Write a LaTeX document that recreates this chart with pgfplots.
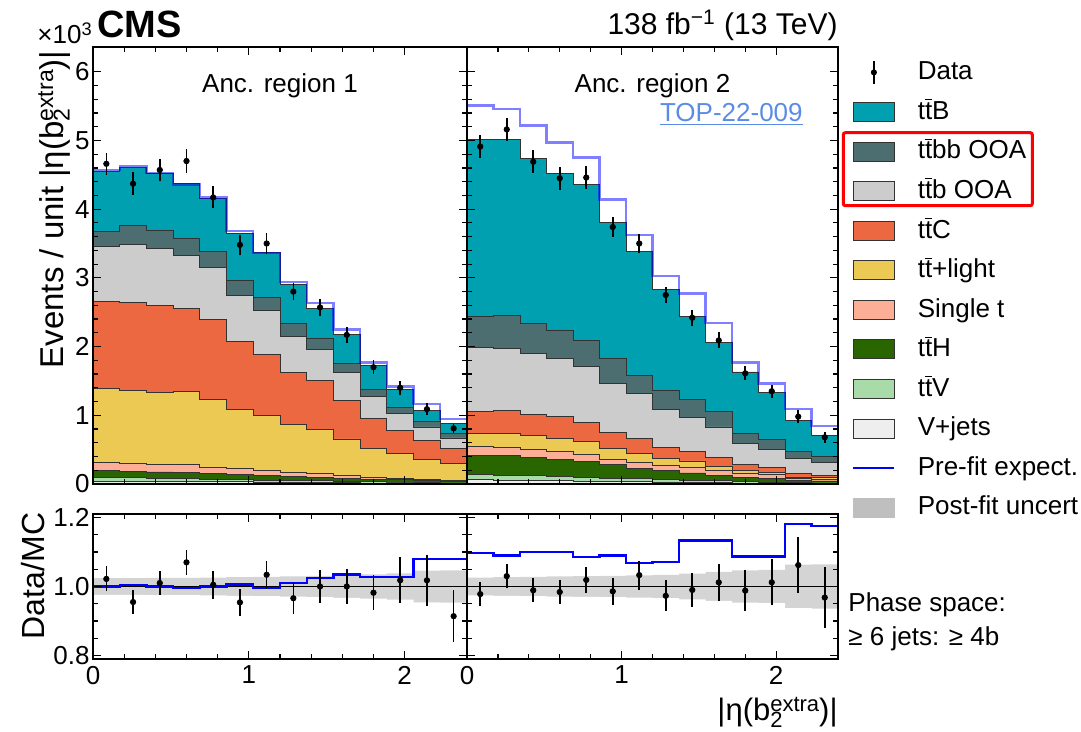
\documentclass[border=0pt]{standalone}
\usepackage{fontspec}
\setmainfont{Liberation Sans}
\usepackage{pgfplots}
\pgfplotsset{compat=1.18}
\usepackage{pgfplotstable}

\definecolor{cttB}{RGB}{0,160,176}
\definecolor{cbb}{RGB}{77,110,112}
\definecolor{cb}{RGB}{204,204,204}
\definecolor{cc}{RGB}{236,104,65}
\definecolor{cl}{RGB}{236,201,82}
\definecolor{cst}{RGB}{252,175,150}
\definecolor{ch}{RGB}{42,102,0}
\definecolor{cv}{RGB}{168,219,168}
\definecolor{cj}{RGB}{238,238,238}
\definecolor{cband}{RGB}{212,212,212}
\definecolor{clink}{RGB}{90,140,230}

\newcommand\tb{\ensuremath{\overline{\mbox{t}}}}
\newcommand\fs[1]{\fontsize{#1}{#1}\selectfont}
% b with stacked subscript 2 and superscript "extra"; #1 = script size
\newcommand\bxt[1]{b\rlap{\raisebox{-0.2em}{\fs{#1}2}}\raisebox{0.3em}{\fs{#1}extra}}

% region 1 histogram (bin lower edges; last row repeats last bin at x=2.4)
\pgfplotstableread{
x tot bb b c l st h v j pre rpre lo hi
0        4.55 3.68 3.45 2.65 1.39  0.316 0.19  0.097 0.04  4.57 1.000 0.976 1.024
0.171429 4.61 3.76 3.48 2.64 1.36  0.303 0.18  0.09  0.04  4.63 1.004 0.976 1.024
0.342857 4.52 3.69 3.43 2.60 1.33  0.29  0.175 0.085 0.035 4.53 1.000 0.975 1.025
0.514286 4.37 3.57 3.33 2.56 1.35  0.28  0.17  0.08  0.035 4.36 0.996 0.975 1.025
0.685714 4.16 3.38 3.15 2.39 1.23  0.24  0.155 0.07  0.03  4.17 1.000 0.974 1.026
0.857143 3.65 2.96 2.75 2.07 1.08  0.22  0.135 0.06  0.03  3.68 1.006 0.973 1.027
1.028571 3.37 2.72 2.52 1.89 0.995 0.20  0.125 0.055 0.025 3.36 0.996 0.972 1.028
1.2      2.91 2.33 2.14 1.62 0.87  0.175 0.115 0.05  0.025 2.94 1.009 0.971 1.029
1.371429 2.56 2.12 1.96 1.50 0.80  0.15  0.10  0.045 0.02  2.63 1.025 0.969 1.031
1.542857 2.17 1.76 1.62 1.22 0.655 0.125 0.085 0.04  0.02  2.25 1.035 0.967 1.033
1.714286 1.73 1.38 1.27 0.95 0.51  0.10  0.07  0.035 0.015 1.77 1.027 0.965 1.035
1.885714 1.38 1.12 1.02 0.78 0.44  0.085 0.06  0.025 0.015 1.42 1.027 0.962 1.038
2.057143 1.07 0.91 0.83 0.64 0.36  0.07  0.045 0.02  0.01  1.16 1.080 0.954 1.046
2.228571 0.88 0.74 0.67 0.51 0.30  0.05  0.03  0.015 0.01  0.95 1.080 0.953 1.047
2.4      0.88 0.74 0.67 0.51 0.30  0.05  0.03  0.015 0.01  0.95 1.080 0.953 1.047
}\hA

% region 2 histogram
\pgfplotstableread{
x tot bb b c l st h v j pre rpre lo hi
0        5.02 2.44 1.99 1.06 0.73  0.54  0.42  0.135 0.06  5.51 1.096 0.974 1.026
0.171429 5.01 2.45 1.97 1.07 0.74  0.53  0.41  0.13  0.055 5.46 1.090 0.973 1.027
0.342857 4.74 2.33 1.90 1.01 0.70  0.50  0.38  0.12  0.05  5.22 1.100 0.972 1.028
0.514286 4.52 2.24 1.83 0.98 0.665 0.47  0.36  0.11  0.045 4.97 1.099 0.971 1.029
0.685714 4.36 2.09 1.71 0.90 0.62  0.43  0.33  0.10  0.04  4.75 1.085 0.970 1.030
0.857143 3.80 1.82 1.46 0.75 0.52  0.36  0.28  0.085 0.035 4.14 1.090 0.969 1.031
1.028571 3.38 1.58 1.32 0.665 0.45 0.315 0.23  0.075 0.03  3.62 1.069 0.968 1.032
1.2      2.83 1.36 1.08 0.53 0.37  0.27  0.19  0.06  0.025 3.03 1.072 0.966 1.034
1.371429 2.44 1.23 0.97 0.48 0.335 0.24  0.16  0.05  0.02  2.77 1.133 0.963 1.037
1.542857 2.06 1.05 0.83 0.38 0.26  0.20  0.13  0.045 0.02  2.34 1.133 0.958 1.042
1.714286 1.63 0.74 0.59 0.28 0.19  0.15  0.09  0.03  0.015 1.77 1.087 0.953 1.047
1.885714 1.33 0.65 0.50 0.24 0.17  0.14  0.08  0.025 0.01  1.46 1.087 0.952 1.048
2.057143 0.93 0.48 0.37 0.15 0.10  0.08  0.053 0.02  0.01  1.09 1.180 0.937 1.063
2.228571 0.70 0.40 0.31 0.13 0.09  0.07  0.044 0.015 0.01  0.84 1.175 0.936 1.064
2.4      0.70 0.40 0.31 0.13 0.09  0.07  0.044 0.015 0.01  0.84 1.175 0.936 1.064
}\hB

% data points (bin centres)
\pgfplotstableread{
x y ey r er
0.085714 4.66 0.163 1.022 0.036
0.257143 4.37 0.17  0.955 0.034
0.428571 4.57 0.16  1.010 0.035
0.6      4.70 0.17  1.070 0.037
0.771429 4.17 0.16  1.005 0.040
0.942857 3.48 0.145 0.954 0.040
1.114286 3.50 0.155 1.034 0.040
1.285714 2.80 0.125 0.966 0.045
1.457143 2.57 0.12  1.000 0.048
1.628571 2.17 0.115 1.000 0.050
1.8      1.70 0.105 0.982 0.050
1.971429 1.40 0.10  1.018 0.067
2.142857 1.09 0.09  1.018 0.074
2.314286 0.81 0.07  0.914 0.076
}\dA

\pgfplotstableread{
x y ey r er
0.085714 4.91 0.17  0.978 0.034
0.257143 5.16 0.17  1.030 0.035
0.428571 4.69 0.165 0.989 0.035
0.6      4.45 0.165 0.984 0.036
0.771429 4.46 0.165 1.019 0.037
0.942857 3.74 0.15  0.986 0.040
1.114286 3.50 0.14  1.033 0.042
1.285714 2.75 0.12  0.973 0.045
1.457143 2.42 0.115 0.990 0.050
1.628571 2.09 0.115 1.012 0.053
1.8      1.61 0.10  0.988 0.060
1.971429 1.35 0.097 1.012 0.067
2.142857 0.98 0.09  1.062 0.081
2.314286 0.68 0.08  0.968 0.088
}\dB

\pgfplotsset{
  base/.style={
    scale only axis, anchor=south west,
    xmin=0, xmax=2.4,
    xtick={0,1,2}, minor x tick num=4,
    tick align=inside,
    major tick length=4pt, minor tick length=2.4pt,
    every tick/.style={black, line width=0.6pt},
    axis line style={line width=1pt},
    axis on top,
    tick label style={font=\fs{13}},
    /pgf/number format/assume math mode=true,
    yticklabel style={inner xsep=1.5pt},
  },
  mainax/.style={base, height=218.5pt, ymin=0, ymax=6.36,
    ytick={0,1,2,3,4,5,6}, minor y tick num=4, xticklabels={}},
  ratax/.style={base, height=72.5pt, ymin=0.79, ymax=1.21,
    ytick={0.8,1.0,1.2}, minor y tick num=3,
    yticklabel style={/pgf/number format/.cd, fixed, fixed zerofill, precision=1}},
  stk/.style={const plot, draw=black!80, line width=0.45pt, forget plot},
  dat/.style={only marks, mark=*, mark size=1.35pt, black, forget plot,
    error bars/.cd, y dir=both, y explicit,
    error bar style={line width=0.8pt, black}, error mark=none},
  box/.style={legend image code/.code={
    \draw[fill=#1, draw=black!80, line width=0.5pt] (0pt,-4.75pt) rectangle (20.5pt,4.75pt);
    \path (32pt,0pt);}},
}

\begin{document}
\begin{tikzpicture}

% ---------- main panel, region 1 ----------
\begin{axis}[mainax, at={(46.5pt,124pt)}, width=187pt]
\addplot[stk, fill=cttB] table[x=x,y=tot]{\hA} \closedcycle;
\addplot[stk, fill=cbb]  table[x=x,y=bb]{\hA} \closedcycle;
\addplot[stk, fill=cb]   table[x=x,y=b]{\hA} \closedcycle;
\addplot[stk, fill=cc]   table[x=x,y=c]{\hA} \closedcycle;
\addplot[stk, fill=cl]   table[x=x,y=l]{\hA} \closedcycle;
\addplot[stk, fill=cst]  table[x=x,y=st]{\hA} \closedcycle;
\addplot[stk, fill=ch]   table[x=x,y=h]{\hA} \closedcycle;
\addplot[stk, fill=cv]   table[x=x,y=v]{\hA} \closedcycle;
\addplot[stk, fill=cj]   table[x=x,y=j]{\hA} \closedcycle;
\addplot[const plot, blue, opacity=0.5, line width=1.2pt, forget plot] table[x=x,y=pre]{\hA};
\addplot[dat] table[x=x,y=y,y error=ey]{\dA};
\node[anchor=base, font=\fs{13}] at (axis cs:1.2,5.7) {Anc. region 1};
\end{axis}

% ---------- main panel, region 2 ----------
\begin{axis}[mainax, at={(233.5pt,124pt)}, width=185.5pt, yticklabels={},
  legend style={at={(1.0377,0.971)}, anchor=north west, draw=none, fill=none,
    font=\fs{13}, inner sep=0pt, row sep=7.77pt, /tikz/column sep=0pt,
    nodes={inner sep=0pt, text height=9.6pt, text depth=2.4pt}},
  legend cell align=left]
\addplot[stk, fill=cttB] table[x=x,y=tot]{\hB} \closedcycle;
\addplot[stk, fill=cbb]  table[x=x,y=bb]{\hB} \closedcycle;
\addplot[stk, fill=cb]   table[x=x,y=b]{\hB} \closedcycle;
\addplot[stk, fill=cc]   table[x=x,y=c]{\hB} \closedcycle;
\addplot[stk, fill=cl]   table[x=x,y=l]{\hB} \closedcycle;
\addplot[stk, fill=cst]  table[x=x,y=st]{\hB} \closedcycle;
\addplot[stk, fill=ch]   table[x=x,y=h]{\hB} \closedcycle;
\addplot[stk, fill=cv]   table[x=x,y=v]{\hB} \closedcycle;
\addplot[stk, fill=cj]   table[x=x,y=j]{\hB} \closedcycle;
\addplot[const plot, blue, opacity=0.5, line width=1.2pt, forget plot] table[x=x,y=pre]{\hB};
\addplot[dat] table[x=x,y=y,y error=ey]{\dB};
\node[anchor=base, font=\fs{13}] at (axis cs:1.2,5.7) {Anc. region 2};
\node[anchor=base, font=\fs{13}, text=clink] at (axis cs:1.71,5.28) {\underline{TOP-22-009}};
% legend
\addlegendimage{legend image code/.code={
  \draw[black, line width=0.7pt] (10.25pt,-5.8pt) -- (10.25pt,5.8pt);
  \fill[black] (10.25pt,0pt) circle (1.3pt);
  \path (0pt,0pt) (32pt,0pt);}}
\addlegendentry{Data}
\addlegendimage{box=cttB}\addlegendentry{t\tb B}
\addlegendimage{box=cbb}\addlegendentry{t\tb bb OOA}
\addlegendimage{box=cb}\addlegendentry{t\tb b OOA}
\addlegendimage{box=cc}\addlegendentry{t\tb C}
\addlegendimage{box=cl}\addlegendentry{t\tb +light}
\addlegendimage{box=cst}\addlegendentry{Single t}
\addlegendimage{box=ch}\addlegendentry{t\tb H}
\addlegendimage{box=cv}\addlegendentry{t\tb V}
\addlegendimage{box=cj}\addlegendentry{V+jets}
\addlegendimage{legend image code/.code={
  \draw[blue, line width=1pt] (0pt,0pt) -- (20.5pt,0pt);
  \path (0pt,-4.75pt) (32pt,4.75pt);}}
\addlegendentry{Pre-fit expect.}
\addlegendimage{legend image code/.code={
  \fill[black!25] (0pt,-4.75pt) rectangle (20.5pt,4.75pt);
  \path (32pt,0pt);}}
\addlegendentry{Post-fit uncert}
\end{axis}

% ---------- ratio panel, region 1 ----------
\begin{axis}[ratax, at={(46.5pt,36.5pt)}, width=187pt]
\addplot[const plot, fill=cband, draw=none, forget plot] table[x=x,y=hi]{\hA} \closedcycle;
\addplot[const plot, fill=white, draw=none, forget plot] table[x=x,y=lo]{\hA} \closedcycle;
\addplot[black, line width=0.6pt, forget plot] coordinates {(0,1) (2.4,1)};
\addplot[const plot, blue, line width=1.1pt, forget plot] table[x=x,y=rpre]{\hA};
\addplot[dat] table[x=x,y=r,y error=er]{\dA};
\end{axis}

% ---------- ratio panel, region 2 ----------
\begin{axis}[ratax, at={(233.5pt,36.5pt)}, width=185.5pt, yticklabels={}]
\addplot[const plot, fill=cband, draw=none, forget plot] table[x=x,y=hi]{\hB} \closedcycle;
\addplot[const plot, fill=white, draw=none, forget plot] table[x=x,y=lo]{\hB} \closedcycle;
\addplot[black, line width=0.6pt, forget plot] coordinates {(0,1) (2.4,1)};
\addplot[const plot, blue, line width=1.1pt, forget plot] table[x=x,y=rpre]{\hB};
\addplot[dat] table[x=x,y=r,y error=er]{\dB};
\end{axis}

% ---------- texts ----------
\node[anchor=base west, font=\fs{19}\bfseries, inner sep=0pt] at (48.5pt,347pt) {CMS};
\node[anchor=base west, font=\fs{13}, inner sep=0pt] at (18.5pt,344pt) {×10\textsuperscript{3}};
\node[anchor=base east, font=\fs{15}, inner sep=0pt] at (419pt,348.5pt) {138 fb\textsuperscript{−1} (13 TeV)};
\node[rotate=90, anchor=base, font=\fs{16.5}, inner sep=0pt] at (31.5pt,261.25pt)
  {Events / unit |η(\bxt{11.5})|};
\node[rotate=90, anchor=base, font=\fs{16}, inner sep=0pt] at (22pt,78pt) {Data/MC};
\node[anchor=base east, font=\fs{15.5}, inner sep=0pt] at (419pt,5.5pt)
  {|η(\bxt{11})|};
\node[anchor=base west, font=\fs{13}, inner sep=0pt] at (424pt,60pt) {Phase space:};
\node[anchor=base west, font=\fs{13}, inner sep=0pt] at (424pt,43pt) {≥ 6 jets: ≥ 4b};
\draw[red, line width=1.5pt, rounded corners=1pt] (421.65pt,263.15pt) rectangle (516.15pt,299.65pt);
\useasboundingbox (0,0) rectangle (540.5pt,366pt);
\end{tikzpicture}
\end{document}
